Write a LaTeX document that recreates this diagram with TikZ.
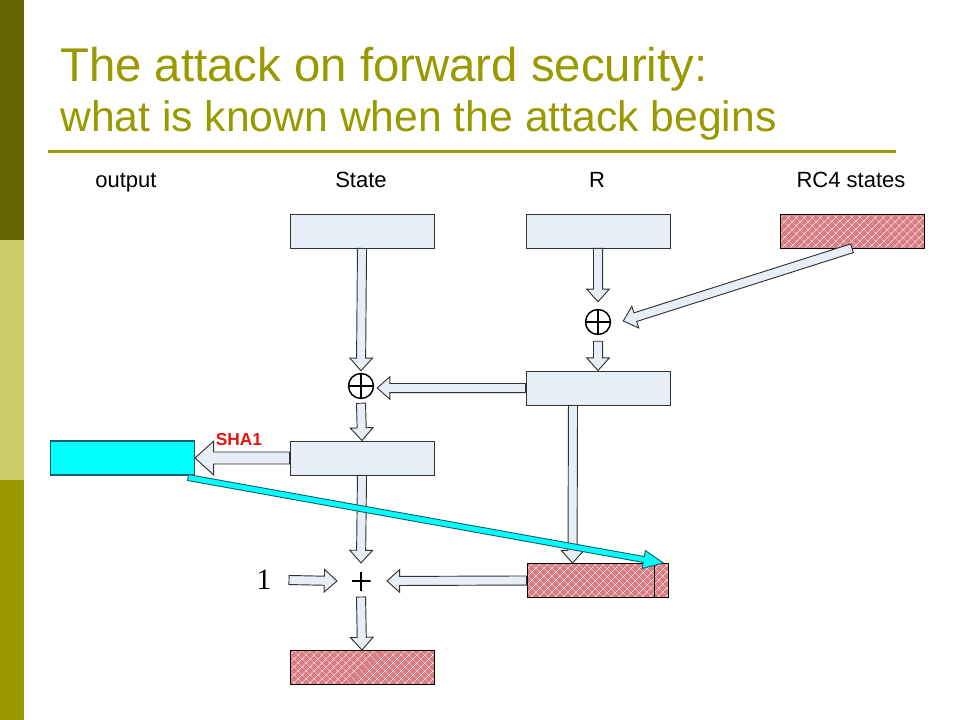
\documentclass[tikz,border=0pt]{standalone}
\usepackage{fontspec}
\setmainfont{Liberation Sans}
\newfontfamily\timesfont{Liberation Serif}
\usetikzlibrary{calc,patterns.meta}

\definecolor{olivetitle}{RGB}{153,153,0}
\definecolor{bardark}{RGB}{102,102,0}
\definecolor{barlight}{RGB}{204,204,102}
\definecolor{boxfill}{RGB}{232,238,247}
\definecolor{boxline}{RGB}{50,50,50}
\definecolor{hatchpink}{RGB}{218,125,130}
\definecolor{outcyan}{RGB}{0,255,255}
\definecolor{cyanline}{RGB}{25,95,105}
\definecolor{shared}{RGB}{228,20,20}

% block arrow: style, from, to, half shaft, half head, head length
\newcommand{\barrow}[6]{%
  \path (#2) coordinate (ba1) (#3) coordinate (ba2);
  \path ($(ba2)!#6!(ba1)$) coordinate (ba3);
  \draw[#1] ($(ba1)!#4!90:(ba2)$) -- ($(ba3)!#4!90:(ba2)$) -- ($(ba3)!#5!90:(ba2)$) -- (ba2)
    -- ($(ba3)!#5!-90:(ba2)$) -- ($(ba3)!#4!-90:(ba2)$) -- ($(ba1)!#4!-90:(ba2)$) -- cycle;}
\newcommand{\flow}[2]{\barrow{flowarrow}{#1}{#2}{3.4pt}{8.5pt}{9.5pt}}

\begin{document}
\begin{tikzpicture}[x=0.75pt,y=-0.75pt,
  slot/.style={minimum width=108pt, minimum height=25.5pt, inner sep=0pt},
  box/.style={slot, draw=boxline, fill=boxfill, line width=0.7pt},
  hatched/.style={slot, draw=black, line width=0.7pt, preaction={fill=hatchpink},
    pattern={Hatch[angle=45,distance=4pt,line width=0.4pt]}, pattern color=white!85!hatchpink},
  outbox/.style={slot, draw=cyanline, fill=outcyan, line width=0.8pt},
  xorsym/.style={circle, draw, line width=1.1pt, minimum size=18.75pt, inner sep=0pt,
    path picture={\draw[line width=1.1pt] (path picture bounding box.north) -- (path picture bounding box.south)
      (path picture bounding box.west) -- (path picture bounding box.east);}},
  plussym/.style={minimum size=14.25pt, inner sep=0pt,
    path picture={\draw[line width=0.9pt] (path picture bounding box.north) -- (path picture bounding box.south)
      (path picture bounding box.west) -- (path picture bounding box.east);}},
  flowarrow/.style={draw=boxline, fill=boxfill, line width=0.7pt},
  cyanarrow/.style={draw=cyanline, fill=outcyan, line width=0.7pt},
  lbl/.style={font=\fontsize{16.5}{20}\selectfont, anchor=base, inner sep=0pt}]
 \useasboundingbox (0,0) rectangle (960,720);
 % side bar and title
 \fill[bardark] (0,0) rectangle (24,240);
 \fill[barlight] (0,240) rectangle (24,480);
 \fill[olivetitle] (0,480) rectangle (24,720);
 \node[anchor=base west, inner sep=0pt, text=olivetitle, font=\fontsize{35.5}{40}\selectfont] (title) at (60,82) {The attack on forward security:};
 \node[anchor=base west, inner sep=0pt, text=olivetitle, font=\fontsize{32}{36}\selectfont] (subtitle) at (60,132) {what is known when the attack begins};
 \draw[olivetitle, line width=2.25pt] (48,152) -- (896,152);
 % column labels
 \node[lbl] (lout) at (126,188) {output};
 \node[lbl] (lstate) at (361,188) {State};
 \node[lbl] (lr) at (597,188) {R};
 \node[lbl] (lrc4) at (851,188) {RC4 states};
 % boxes
 \node[box] (state) at (362,231) {};
 \node[box] (rbox) at (598,231) {};
 \node[hatched] (rc4) at (852,231) {};
 \node[xorsym] (xorr) at (598,322) {};
 \node[box] (rmix) at (598,388) {};
 \node[xorsym] (xors) at (361,386) {};
 \node[box] (snew) at (362,458) {};
 \node[outbox] (out) at (122.5,458) {};
 \node[plussym] (add) at (361,581) {};
 \node[hatched, minimum width=105.75pt] (rcnew) at (597.5,580.5) {};
 \node[hatched] (rcout) at (362,667.5) {};
 \node[font=\timesfont\fontsize{22}{24}\selectfont, inner sep=0pt] (one) at (264,580) {1};
 \node[font=\bfseries\fontsize{13}{15}\selectfont, text=shared, anchor=base, inner sep=0pt] (sha) at (239,445) {SHA1};
 \draw[line width=0.7pt] ($(rcnew.north east)+(-14,0)$) -- ($(rcnew.south east)+(-14,0)$);
 % arrows
 \flow{rbox.south}{$(xorr.north)+(0,-7)$}
 \flow{rc4.south}{$(xorr.east)+(12,-1)$}
 \flow{$(xorr.south)+(0,6)$}{rmix.north}
 \flow{state.south}{$(xors.north)+(0,-2)$}
 \flow{rmix.west}{$(xors.east |- rmix.west)+(3,0)$}
 \flow{$(xors.south)+(0,4)$}{snew.north}
 \barrow{flowarrow}{snew.west}{out.east}{4.5pt}{12.75pt}{14pt}
 \flow{snew.south}{$(add.center)+(0,-18)$}
 \flow{$(one.center)+(25,0)$}{$(add.center)+(-24,0)$}
 \flow{rcnew.west}{$(add.center)+(26,0)$}
 \flow{$(add.center)+(0,16)$}{rcout.north}
 \flow{$(rmix.south)+(-25,0)$}{$(rcnew.north)+(-25,0)$}
 \barrow{cyanarrow}{$(out.south east)+(-7,2)$}{$(rcnew.north east)+(-5,0)$}{2.25pt}{6.75pt}{15pt}
\end{tikzpicture}
\end{document}
